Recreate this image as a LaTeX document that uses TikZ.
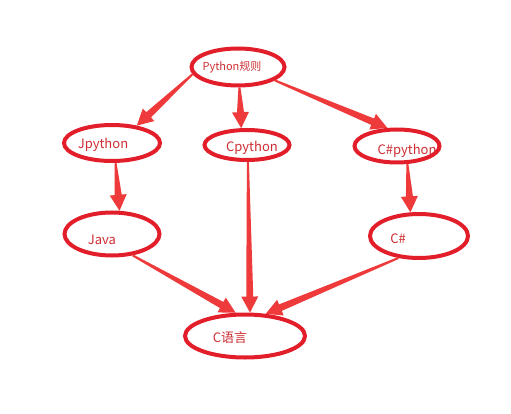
\documentclass[tikz,border=0pt]{standalone}
\usepackage{fontspec}
\newfontfamily\cjk{Noto Sans CJK SC}
\usetikzlibrary{shapes.geometric,calc}
\definecolor{ovalred}{RGB}{226,30,42}
\definecolor{arrowred}{RGB}{238,58,58}
\definecolor{textred}{RGB}{205,45,50}

\begin{document}
\begin{tikzpicture}[x=1pt,y=-1pt,line cap=round,
    oval/.style={ellipse,draw=ovalred,line width=4pt,inner sep=0pt},
    tag/.style={text=textred,font=\cjk\fontsize{13}{13}\selectfont},
    flow/.style={fill=arrowred,
      to path={($(\tikztostart)!1pt!90:(\tikztotarget)$)
        -- ($($(\tikztotarget)!16pt!(\tikztostart)$)!3.5pt!-90:(\tikztostart)$)
        -- ($($(\tikztotarget)!16pt!(\tikztostart)$)!8.5pt!-90:(\tikztostart)$)
        -- (\tikztotarget)
        -- ($($(\tikztotarget)!16pt!(\tikztostart)$)!8.5pt!90:(\tikztostart)$)
        -- ($($(\tikztotarget)!16pt!(\tikztostart)$)!3.5pt!90:(\tikztostart)$)
        -- ($(\tikztostart)!1pt!-90:(\tikztotarget)$) -- cycle}}]
  \useasboundingbox (0,0) rectangle (511,414);

  \node[oval,minimum width=93pt,minimum height=37pt,
    label={[tag,font=\cjk\fontsize{11}{11}\selectfont,xshift=-6pt]center:Python规则}] (py) at (238,67) {};
  \node[oval,minimum width=96pt,minimum height=36pt,
    label={[tag,xshift=-9pt,yshift=-2pt]center:Jpython}] (jpy) at (112,143) {};
  \node[oval,minimum width=85pt,minimum height=30pt,
    label={[tag,xshift=5pt,yshift=-3pt]center:Cpython}] (cpy) at (247,145) {};
  \node[oval,minimum width=85pt,minimum height=33pt,
    label={[tag,xshift=10pt,yshift=-5pt]center:C\#python}] (cspy) at (397,146) {};
  \node[oval,minimum width=95pt,minimum height=43pt,
    label={[tag,xshift=-10pt,yshift=-6pt]center:Java}] (java) at (112,234) {};
  \node[oval,minimum width=98pt,minimum height=44pt,
    label={[tag,xshift=-21pt,yshift=-3pt]center:C\#}] (cs) at (419,236) {};
  \node[oval,minimum width=120pt,minimum height=43pt,
    label={[tag,xshift=-15pt,yshift=-2pt]center:C语言}] (clang) at (245,336) {};

  \path[flow] (py.189) to (jpy.35);
  \path[flow] (py.274) to (cpy.109);
  \path[flow] (py.340) to (cspy.118);
  \path[flow] (jpy.280) to (java.72);
  \path[flow] (cpy.273) to (clang.78);
  \path[flow] (cspy.300) to (cs.110);
  \path[flow] (java.314) to (clang.112);
  \path[flow] (cs.227) to (clang.47);
\end{tikzpicture}
\end{document}
